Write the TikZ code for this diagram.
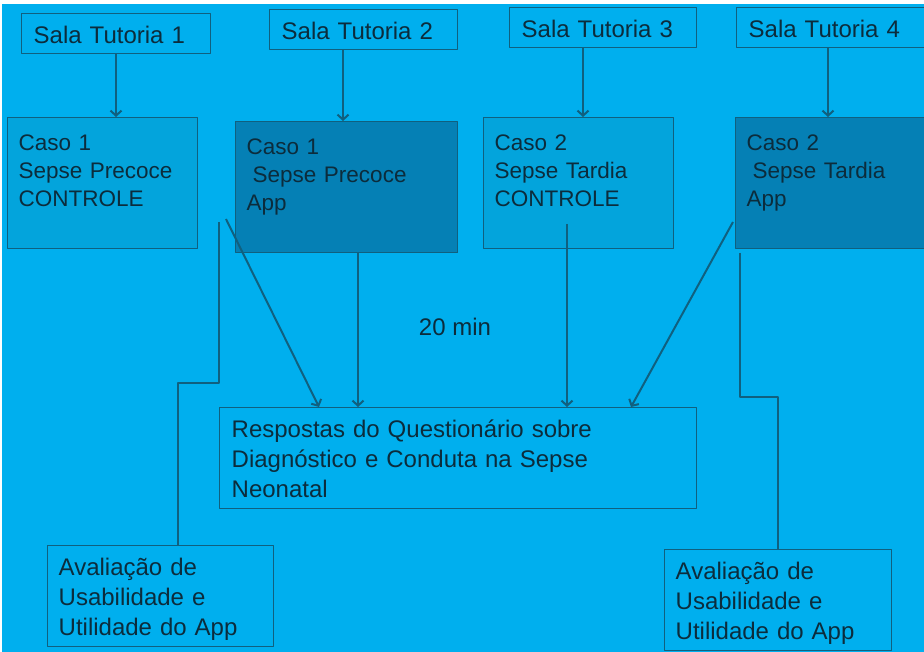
\documentclass[tikz,border=0pt]{standalone}
\usepackage{fontspec}
\setmainfont{Liberation Sans}
\usetikzlibrary{arrows.meta,calc,positioning}
\definecolor{fundo}{HTML}{00AFEE}
\definecolor{caixa}{HTML}{03A4DC}
\definecolor{escura}{HTML}{0580B5}
\definecolor{traco}{HTML}{10607F}
\definecolor{texto}{HTML}{0C2C3C}
\tikzset{
  quadro/.style={draw=traco, line width=1.4pt, anchor=north west, text=texto,
    inner xsep=11pt, inner ysep=4pt, text width=#1},
  sala/.style={quadro=#1, inner xsep=12pt, text height=26pt, text depth=6pt,
    font=\fontsize{24}{30}\selectfont},
  caso/.style={quadro=#1, text height=29pt, text depth=94pt,
    font=\fontsize{22.5}{28}\selectfont},
  bloco/.style={quadro=#1, text height=26pt, text depth=67pt,
    font=\fontsize{24}{30}\selectfont},
  seta/.style={draw=traco, line width=2pt, -{Straight Barb[length=5pt,width=11pt]}},
  elo/.style={draw=traco, line width=2pt}
}
\begin{document}
\begin{tikzpicture}[x=1pt, y={(0pt,-1pt)}, line join=round]
\useasboundingbox (0,0) rectangle (924,652);
\fill[fundo] (2,4) rectangle (924,652);
% salas
\node[sala=165pt] (sala1) at (21,13) {Sala Tutoria 1};
\node[sala=164pt] (sala2) at (269,9) {Sala Tutoria 2};
\node[sala=163pt] (sala3) at (509,7) {Sala Tutoria 3};
\node[sala=166pt] (sala4) at (736,7) {Sala Tutoria 4};
% casos
\node[caso=168pt, fill=caixa] (caso1) at (7,117) {Caso 1\\Sepse Precoce\\CONTROLE};
\node[caso=200pt, fill=escura] (caso2) at (235,121) {Caso 1\\\hspace*{6pt}Sepse Precoce\\App};
\node[caso=168pt, fill=caixa] (caso3) at (483,117) {Caso 2\\Sepse Tardia\\CONTROLE};
\node[caso=168pt, fill=escura] (caso4) at (735,117) {Caso 2\\\hspace*{6pt}Sepse Tardia\\App};
% questionario e avaliacao
\node[bloco=453pt, inner xsep=12pt] (resp) at (219,407) {Respostas do Questionário sobre\\Diagnóstico e Conduta na Sepse\\Neonatal};
\node[bloco=204pt] (aval1) at (47,545) {Avaliação de\\Usabilidade e\\Utilidade do App};
\node[bloco=205pt] (aval2) at (664,549) {Avaliação de\\Usabilidade e\\Utilidade do App};
\node[text=texto, font=\fontsize{24}{30}\selectfont] (tempo) at (455,327) {20 min};
% setas
\foreach \i/\d in {1/95,2/74,3/74,4/92}{
  \coordinate (s\i) at ($(sala\i.south west)+(\d,0)$);
  \draw[seta] (s\i) -- (s\i |- caso\i.north);}
\coordinate (d1) at (226,219);
\coordinate (d1f) at ($(resp.north west)+(100,0)$);
\coordinate (b2) at ($(caso2.south west)+(123,0)$);
\coordinate (b3) at (567,224);
\coordinate (d4) at (733,222);
\coordinate (d4f) at ($(resp.north west)+(412,0)$);
\draw[seta] (d1) -- (d1f);
\draw[seta] (b2) -- (b2 |- resp.north);
\draw[seta] (b3) -- (b3 |- resp.north);
\draw[seta] (d4) -- (d4f);
% ligacoes com a avaliacao
\coordinate (e1) at (219,222);
\coordinate (k1) at (178,383);
\draw[elo] (e1) -- (e1 |- k1) -- (k1) -- (k1 |- aval1.north);
\coordinate (e2) at (740,253);
\coordinate (k2) at (aval2.north |- 0,397);
\draw[elo] (e2) -- (e2 |- k2) -- (k2) -- (aval2.north);
\end{tikzpicture}
\end{document}
